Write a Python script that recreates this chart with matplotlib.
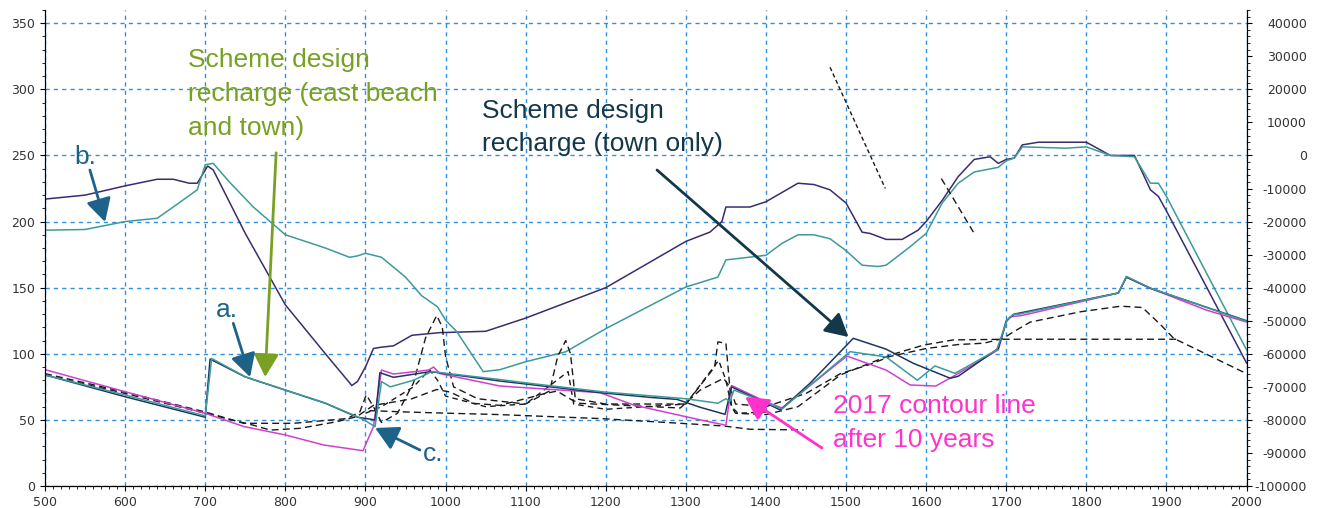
import matplotlib
matplotlib.use("Agg")
import matplotlib.pyplot as plt
from matplotlib.ticker import MultipleLocator

plt.rcParams["axes.unicode_minus"] = False

# upper profiles
purple_x = [500, 550, 600, 640, 660, 680, 690, 703, 710, 750, 800, 850, 883, 890, 900, 910, 920, 935, 958, 993,
            1050, 1100, 1200, 1300, 1330, 1345, 1350, 1380, 1400, 1420, 1440, 1460, 1480, 1500, 1520, 1530, 1550,
            1570, 1590, 1600, 1620, 1640, 1660, 1680, 1690, 1700, 1710, 1720, 1740, 1800, 1830, 1860, 1880, 1890,
            1900, 2000]
purple_y = [217, 220, 227, 232, 232, 229, 229, 242, 239, 191, 137, 100, 76, 79, 90, 104, 105, 106, 114, 116,
            117, 127, 150, 185, 192, 200, 211, 211, 215, 222, 229, 228, 224, 214, 192, 191, 186.5,
            186.5, 193.5, 200, 216, 234, 247, 249, 244, 247, 248, 258, 260, 260, 250, 250, 224, 219,
            208, 93]

teal_x = [500, 550, 600, 640, 660, 690, 700, 710, 730, 760, 800, 850, 880, 890, 900, 920, 950, 970, 990, 1000,
          1014, 1047, 1068, 1100, 1150, 1200, 1300, 1340, 1350, 1400, 1420, 1440, 1460, 1480, 1500, 1520, 1540,
          1550, 1580, 1600, 1620, 1640, 1660, 1690, 1700, 1710, 1720, 1775, 1800, 1830, 1860, 1880, 1890, 1900,
          2000]
teal_y = [193.5, 194, 200, 202.5, 211, 224, 243, 244, 230, 211, 190, 180, 173, 174, 176, 173, 158, 144, 135.5, 125.5,
          116.7, 86.5, 88, 94, 101.5, 119, 150.5, 158, 171, 174.5, 183.5, 190, 190, 187, 178, 167, 166,
          167, 181, 191, 214, 229, 237.5, 241, 246, 248, 256.5, 255.5, 256.5, 250, 249, 229, 229, 219,
          103]

# lower profiles
magenta_x = [500, 600, 700, 748, 800, 848, 897, 910, 920, 935, 979, 985, 993, 1068, 1193, 1235, 1318, 1350, 1357,
             1400, 1420, 1501, 1550, 1580, 1612, 1637, 1690, 1700, 1705, 1720, 1840, 1850, 1880, 1950, 2000]
magenta_y = [88, 71.3, 55, 45, 38.6, 31, 26.7, 45, 87.7, 84.7, 87.7, 90, 85, 75.6, 70.6, 61.2, 50, 46, 76,
             63.7, 59, 98.3, 87.7, 76.4, 75.6, 84, 103, 124, 128, 129, 146, 158, 149.5, 133, 124]

teal2_x = [500, 600, 700, 708, 750, 800, 850, 890, 900, 912, 920, 931, 960, 983, 1068, 1100, 1200, 1300, 1340,
           1350, 1355, 1360, 1420, 1505, 1550, 1589, 1611, 1636, 1688, 1701, 1709, 1716, 1840, 1850, 1880, 2000]
teal2_y = [84, 68.8, 53, 96.5, 82.6, 72.6, 62.7, 52.4, 49.4, 44.8, 79, 75, 80, 86.5, 80.5, 78, 71, 66, 62.6,
           66, 64, 72.6, 58.3, 101.6, 97.6, 80, 90.8, 85.2, 102.9, 125.6, 130, 130, 146, 158.5, 149.7, 124.5]

navy_x = [500, 600, 700, 706, 750, 800, 850, 890, 912, 918, 935, 981, 1068, 1193, 1256, 1289, 1318, 1349, 1357,
          1418, 1455, 1509, 1550, 1584, 1630, 1640, 1690, 1700, 1710, 1840, 1850, 1880, 2000]
navy_y = [84, 67.5, 52, 96, 82.5, 72.5, 62.6, 52, 50, 85.7, 82.2, 86.5, 79.4, 70.6, 67, 65.5, 59.5, 54.2, 75,
          57.5, 77.7, 111.7, 103.5, 92.8, 81.5, 83, 104, 125, 130, 146, 158, 149.5, 125]

dash_a_x = [500, 600, 700, 748, 810, 877, 893, 901, 910, 920, 940, 960, 975, 989, 996, 1000, 1010, 1040, 1100,
            1130, 1140, 1150, 1156, 1162, 1200, 1300, 1336, 1340, 1350, 1357, 1362, 1400, 1440, 1493, 1555,
            1597, 1634, 1700, 1800, 1913]
dash_a_y = [85, 71, 56, 47.4, 47.4, 51, 56, 69, 60, 48, 55, 78, 112, 129, 120, 98, 75, 66, 62,
            72, 98, 110, 100, 66, 62, 62, 90, 109, 108, 60, 55, 54, 60, 84, 99,
            106.6, 110.5, 111, 111, 111]

dash_b_x = [500, 600, 700, 760, 781, 818, 864, 889, 910, 940, 958, 989, 1006, 1035, 1068, 1122, 1139, 1158, 1168,
            1240, 1293, 1318, 1347, 1355, 1362, 1400, 1450, 1493, 1530, 1555, 1600, 1640, 1672, 1696, 1709, 1730,
            1793, 1843, 1870, 1893, 1909, 2000]
dash_b_y = [84, 70, 55, 46, 42.3, 43.6, 48.6, 52.4, 61, 64, 66, 73, 71, 62.5, 61, 69.6, 71.8, 65, 62.5,
            60.5, 59, 72.6, 81.4, 75, 62, 60, 70, 85, 92, 98, 104, 107, 108, 111.6, 116.6, 124,
            131.8, 136, 135, 121.8, 111.7, 85]

dash_c_x = [905, 950, 1006, 1068, 1193, 1305, 1347, 1380, 1447]
dash_c_y = [57, 56, 55, 54, 51, 47, 45.4, 42.9, 42.4]

dash_d_x = [900, 920, 960, 980, 990, 1000, 1050, 1100, 1126, 1153, 1160, 1200, 1300, 1341, 1350, 1357, 1365, 1400]
dash_d_y = [55, 60, 75, 88, 80, 68, 60, 62, 74, 86.5, 62, 58, 62, 95, 80, 60, 55, 56]

seg1_x = [1480, 1549]
seg1_y = [316.7, 225]
seg2_x = [1619, 1659]
seg2_y = [232.5, 192]

fig = plt.figure(figsize=(13.25, 5.08), dpi=100)
ax = fig.add_axes([0.034, 0.0433, 0.9068, 0.937])

ax.set_xlim(500, 2000)
ax.set_ylim(0, 360)

ax.plot(purple_x, purple_y, color="#3b2c6e", lw=1.1)
ax.plot(teal_x, teal_y, color="#3e9a9a", lw=1.1)

ax.plot(dash_c_x, dash_c_y, color="#1a1a1a", lw=1, ls=(0, (5, 3)))
ax.plot(dash_d_x, dash_d_y, color="#1a1a1a", lw=1, ls=(0, (4, 3)))
ax.plot(dash_a_x, dash_a_y, color="#1a1a1a", lw=1, ls=(0, (5, 3)))
ax.plot(dash_b_x, dash_b_y, color="#1a1a1a", lw=1, ls=(0, (5, 3)))
ax.plot(seg1_x, seg1_y, color="#1a1a1a", lw=1, ls=(0, (3, 2)))
ax.plot(seg2_x, seg2_y, color="#1a1a1a", lw=1, ls=(0, (5, 3)))

ax.plot(magenta_x, magenta_y, color="#d040d0", lw=1.1)
ax.plot(navy_x, navy_y, color="#1f3560", lw=1.1)
ax.plot(teal2_x, teal2_y, color="#3e9a9a", lw=1.1)

ax.xaxis.set_major_locator(MultipleLocator(100))
ax.xaxis.set_minor_locator(MultipleLocator(10))
ax.yaxis.set_major_locator(MultipleLocator(50))
ax.yaxis.set_minor_locator(MultipleLocator(10))
ax.grid(True, which="major", color="#3490d8", ls=(0, (3, 3)), lw=1)
ax.set_axisbelow(True)
ax.spines["top"].set_visible(False)
ax.tick_params(which="both", labelsize=9, labelcolor="#333333", direction="out")
ax.tick_params(which="minor", length=2.5)

ax2 = ax.twinx()
ax2.set_ylim(-100000, 44000)
ax2.yaxis.set_major_locator(MultipleLocator(10000))
ax2.yaxis.set_minor_locator(MultipleLocator(2000))
ax2.spines["top"].set_visible(False)
ax2.tick_params(which="both", labelsize=9, labelcolor="#333333", direction="out", pad=40)
ax2.tick_params(which="minor", length=2.5)
for lab in ax2.get_yticklabels():
    lab.set_horizontalalignment("right")

font = "Liberation Sans"
arrow_kw = dict(arrowstyle="-|>,head_length=0.7,head_width=0.38", lw=2, mutation_scale=20,
                shrinkA=0, shrinkB=0)

green = "#78a022"
blue = "#1d6288"
ax.text(678, 331, "Scheme design\nrecharge (east beach\nand town)", color=green, fontsize=19,
        family=font, va="top", ha="left", linespacing=1.52)
ax.annotate("", xy=(774.8, 82.4), xytext=(788.5, 252), arrowprops=dict(color=green, **arrow_kw))

ax.text(550, 249, "b.", color=blue, fontsize=19, family=font, va="center", ha="center")
ax.annotate("", xy=(575, 199.7), xytext=(556, 239), arrowprops=dict(color=blue, **arrow_kw))
ax.text(727, 133, "a.", color=blue, fontsize=19, family=font, va="center", ha="center")
ax.annotate("", xy=(756, 82.4), xytext=(735, 123), arrowprops=dict(color=blue, **arrow_kw))
ax.text(985, 24, "c.", color=blue, fontsize=19, family=font, va="center", ha="center")
ax.annotate("", xy=(912, 43.9), xytext=(968, 27.2), arrowprops=dict(color=blue, **arrow_kw))

ax.text(1046, 293, "Scheme design\nrecharge (town only)", color="#13384a", fontsize=19,
        family=font, va="top", ha="left", linespacing=1.52)
ax.annotate("", xy=(1503, 112.7), xytext=(1264, 239), arrowprops=dict(color="#13384a", **arrow_kw))

ax.text(1484, 69.5, "2017 contour line\nafter 10 years", color="#ff33cc", fontsize=19,
        family=font, va="top", ha="left", linespacing=1.52)
ax.annotate("", xy=(1374, 67.3), xytext=(1470, 28.7), arrowprops=dict(color="#ff33cc", **arrow_kw))

fig.savefig("out.png", dpi=100)
